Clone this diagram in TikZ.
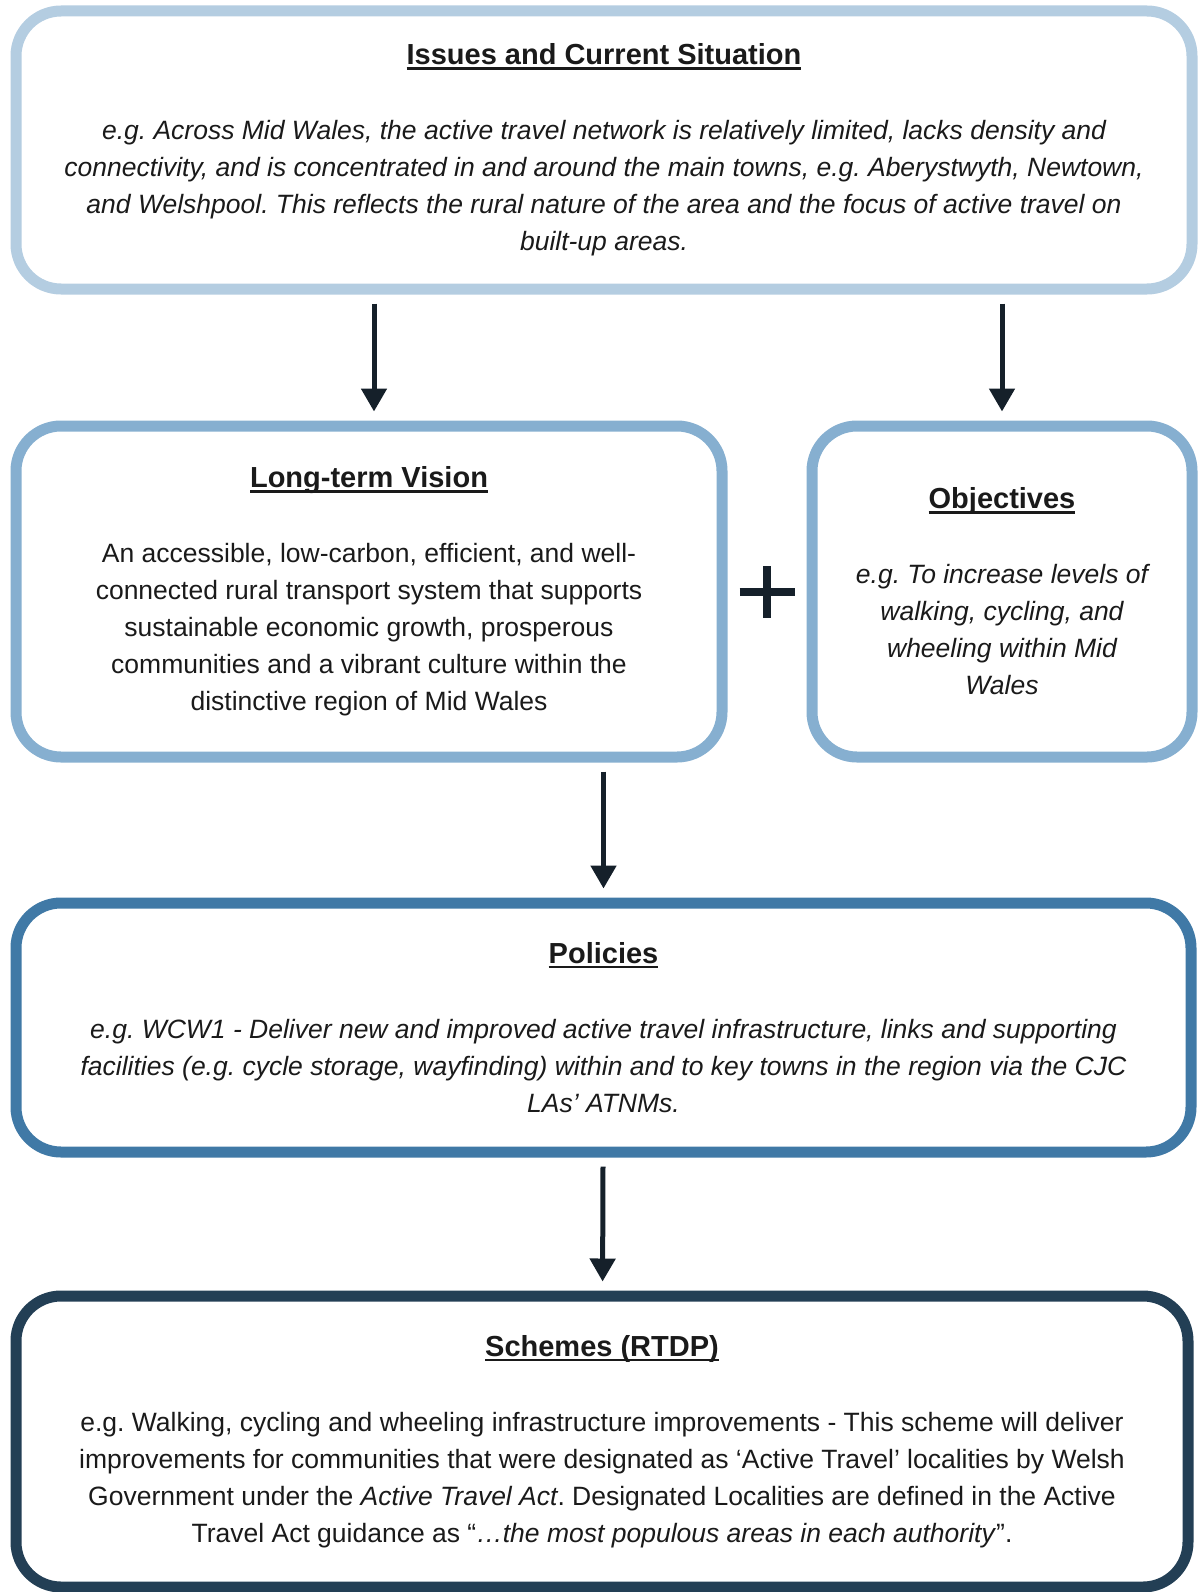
\documentclass[tikz,border=0pt]{standalone}
\usepackage{fontspec}
\setmainfont{Liberation Sans}
\usepackage{xcolor}
\usetikzlibrary{positioning,arrows.meta,calc}

\definecolor{issuesblue}{HTML}{B4CDE1}
\definecolor{visionblue}{HTML}{86AFD0}
\definecolor{policyblue}{HTML}{4079A6}
\definecolor{schemenavy}{HTML}{233F55}
\definecolor{arrowink}{HTML}{15202A}
\definecolor{textink}{HTML}{1A1A1A}

% bold heading with a heavier underline
\newsavebox\headbox
\newcommand{\headtext}[1]{\sbox\headbox{\fontsize{29}{37}\selectfont\bfseries #1}\rlap{\vrule height -2.5pt depth 5pt width \wd\headbox}\usebox\headbox}

\begin{document}
\frenchspacing
\begin{tikzpicture}[
  x=1pt, y=-1pt,
  box/.style={draw, line width=11pt, rounded corners=45pt, align=center, text=textink, font=\fontsize{26.5}{37}\selectfont, inner sep=0pt},
  arr/.style={-{Triangle[width=25pt,length=23pt]}, line width=5pt, draw=arrowink, shorten <=9pt, shorten >=9pt},
  plussign/.style={line width=8pt, draw=arrowink}
]
\useasboundingbox (0,0) rectangle (1199,1592);

\node[box, draw=issuesblue, minimum width=1176pt, minimum height=278pt] (issues) at (604,150)
  {\headtext{Issues and Current Situation}\\[38pt]
   \itshape e.g. Across Mid Wales, the active travel network is relatively limited, lacks density and\\
   \itshape connectivity, and is concentrated in and around the main towns, e.g. Aberystwyth, Newtown,\\
   \itshape and Welshpool. This reflects the rural nature of the area and the focus of active travel on\\
   \itshape built-up areas.};

\node[box, draw=visionblue, minimum width=706pt, minimum height=331pt,
      below=126pt of issues.south west, anchor=north west] (vision)
  {\headtext{Long-term Vision}\\[38pt]
   An accessible, low-carbon, efficient, and well-\\
   connected rural transport system that supports\\
   sustainable economic growth, prosperous\\
   communities and a vibrant culture within the\\
   distinctive region of Mid Wales};

\node[box, draw=visionblue, minimum width=380pt, minimum height=331pt, right=79pt of vision] (objectives)
  {\headtext{Objectives}\\[38pt]
   \itshape e.g. To increase levels of\\
   \itshape walking, cycling, and\\
   \itshape wheeling within Mid\\
   \itshape Wales};

\node[box, draw=policyblue, minimum width=1175pt, minimum height=249pt,
      below=135pt of vision.south west, anchor=north west] (policies)
  {\headtext{Policies}\\[38pt]
   \itshape e.g. WCW1 - Deliver new and improved active travel infrastructure, links and supporting\\
   \itshape facilities (e.g. cycle storage, wayfinding) within and to key towns in the region via the CJC\\
   \itshape LAs’ ATNMs.};

\node[box, draw=schemenavy, minimum width=1172pt, minimum height=291pt,
      below=133pt of policies.south west, anchor=north west] (schemes)
  {\headtext{Schemes (RTDP)}\\[38pt]
   e.g. Walking, cycling and wheeling infrastructure improvements - This scheme will deliver\\
   improvements for communities that were designated as ‘Active Travel’ localities by Welsh\\
   Government under the \textit{Active Travel Act}. Designated Localities are defined in the Active\\
   Travel Act guidance as “\textit{…the most populous areas in each authority}”.};

\coordinate (plus) at ($(vision.east)!0.5!(objectives.west)$);
\draw[plussign] ([xshift=-27.5pt]plus) -- ([xshift=27.5pt]plus)
                ([yshift=-26pt]plus) -- ([yshift=26pt]plus);

\draw[arr] ([xshift=5pt]issues.south -| vision.north) -- ([xshift=5pt]vision.north);
\draw[arr] (issues.south -| objectives.north) -- (objectives.north);
\draw[arr] (vision.south -| policies.north) -- (policies.north);
\draw[arr] (policies) -- (schemes);
\end{tikzpicture}
\end{document}
